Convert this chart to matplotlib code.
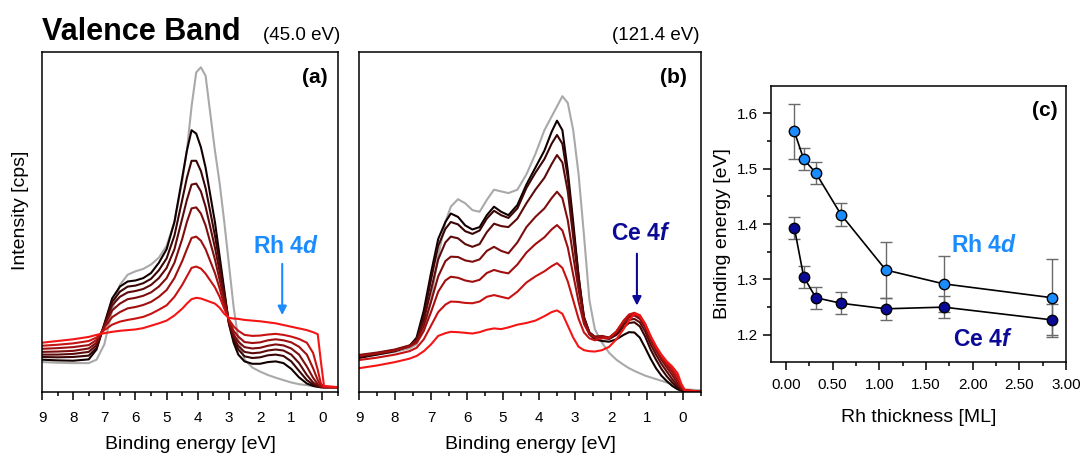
import matplotlib
matplotlib.use("Agg")
import matplotlib.pyplot as plt
from matplotlib.ticker import MultipleLocator, FormatStrFormatter

plt.rcParams['font.family'] = ['Liberation Sans', 'DejaVu Sans']
plt.rcParams['mathtext.fontset'] = 'custom'
plt.rcParams['mathtext.it'] = 'Liberation Sans:italic:bold'
plt.rcParams['mathtext.rm'] = 'Liberation Sans:bold'

# ---------------- Panel (a): hv = 45.0 eV ----------------
energy_a = [9.0, 8.5, 8.0, 7.5, 7.25, 7.0, 6.75, 6.5, 6.25, 6.0, 5.75, 5.5, 5.25, 5.0,
            4.75, 4.5, 4.35, 4.2, 4.05, 3.9, 3.75, 3.6, 3.45, 3.3, 3.15, 3.0, 2.85, 2.7,
            2.5, 2.25, 2.0, 1.75, 1.5, 1.25, 1.0, 0.75, 0.5, 0.3, 0.15, 0.05, -0.05, -0.5]
gray_a = [8.8, 8.6, 8.5, 8.5, 9.5, 14, 24, 31.5, 34.5, 35.5, 36.2, 37.5, 39.5, 43,
          50, 62, 71, 84, 94, 95.5, 93, 82, 71, 61.5, 50, 37.5, 25, 15.5,
          9.5, 7.2, 6, 5, 4.2, 3.5, 2.8, 2.3, 2, 1.7, 1.6, 1.5, 1.5, 1.5]
a1 = [9.5, 9.3, 9.2, 9.6, 12.5, 20, 27.5, 31, 32.5, 32.8, 33.5, 35, 38, 42,
      50, 63, 71, 77, 76, 72, 66, 58, 50, 40, 30, 20, 14.5, 11,
      9, 8.3, 8.3, 8.8, 9, 8.5, 6.8, 4.3, 2.5, 1.8, 1.5, 1.4, 1.4, 1.4]
a2 = [10.3, 10.2, 10.3, 10.7, 13, 19.8, 26.5, 29.5, 31, 31.3, 32, 33.3, 35.8, 39.3,
      46, 56.5, 63, 68, 68, 65, 60, 53, 46, 38, 29, 20.2, 15.5, 12.5,
      10.5, 10, 10.2, 10.8, 11, 10.6, 9, 6.2, 3.5, 2.2, 1.6, 1.4, 1.4, 1.4]
a3 = [11, 11, 11.2, 11.8, 13.8, 19.6, 25.5, 28, 29.3, 29.7, 30.3, 31.5, 33.5, 36.5,
      42, 51, 56.5, 61, 61.3, 59, 54.5, 48.5, 42.5, 35.5, 28, 20.5, 16.3, 13.5,
      11.8, 11.4, 11.6, 12.2, 12.5, 12.2, 11, 8.5, 5, 2.8, 1.8, 1.5, 1.4, 1.4]
a4 = [11.8, 11.9, 12.1, 12.8, 14.5, 19.3, 24, 26, 27.3, 27.7, 28.3, 29.3, 31, 33.5,
      38, 45, 50, 54, 54.3, 52.5, 49, 44, 39, 33, 27, 20.8, 17, 14.8,
      13.2, 12.8, 13, 13.6, 14, 13.7, 12.8, 11, 7.5, 4.2, 2.3, 1.6, 1.4, 1.4]
a5 = [12.7, 12.9, 13.2, 13.8, 15.3, 18.9, 22, 23.5, 24.6, 25, 25.6, 26.5, 28, 30,
      33.5, 38.5, 42, 45.3, 45.7, 44.5, 42, 38.5, 35, 30.5, 25.5, 21, 18, 16.3,
      14.7, 14.4, 14.6, 15.2, 15.5, 15.2, 14.6, 13.3, 11, 7, 3.5, 1.8, 1.4, 1.4]
a6 = [13.6, 13.9, 14.3, 15, 16, 18.2, 19.8, 20.7, 21.2, 21.6, 22.1, 23, 24.2, 25.5,
      28, 31.5, 34, 36.5, 36.9, 36.3, 34.8, 32.8, 30.8, 28, 24.5, 21.3, 19.3, 18,
      16.8, 16.5, 16.6, 16.9, 17.1, 16.8, 16.3, 15.6, 14.5, 11.5, 6.5, 2.5, 1.5, 1.4]
a7 = [14.5, 15, 15.5, 16.2, 16.8, 17.3, 17.7, 18, 18.2, 18.4, 18.8, 19.5, 20.2, 21,
      22.5, 24.5, 26, 27.3, 27.7, 27.5, 27, 26.5, 26, 24.8, 23, 21.8, 21.6, 21.5,
      21.2, 21, 20.8, 20.5, 20.2, 19.7, 19.2, 18.7, 18.2, 17.6, 17, 9, 1.8, 1.4]
series_a = [a1, a2, a3, a4, a5, a6, a7]

# ---------------- Panel (b): hv = 121.4 eV ----------------
energy_b = [9.0, 8.5, 8.0, 7.6, 7.4, 7.2, 7.0, 6.8, 6.6, 6.45, 6.25, 6.05, 5.85, 5.65,
            5.45, 5.25, 5.05, 4.85, 4.6, 4.35, 4.1, 3.85, 3.65, 3.5, 3.35, 3.2, 3.05,
            2.9, 2.75, 2.6, 2.45, 2.25, 2.05, 1.85, 1.65, 1.5, 1.35, 1.2, 1.05, 0.9,
            0.75, 0.6, 0.45, 0.3, 0.15, 0.05, -0.05, -0.5]
gray_b = [10.4, 11, 11.8, 12.8, 14, 18, 27, 40, 50, 54.5, 56.7, 55.5, 53.5, 53,
          56.5, 59.5, 59, 58.5, 59.5, 64, 70, 77, 81, 84, 87, 85, 77,
          64, 46, 27, 18.5, 14.5, 11.5, 9.5, 8, 7, 6.2, 5.5, 4.8, 4.3,
          3.8, 3.3, 2.8, 2.3, 1.7, 1.2, 0.8, 0.5]
b1 = [10, 11, 12, 13.5, 16, 24, 35, 45, 50, 52.5, 51.5, 49, 47.8, 48.5,
      52, 54.5, 53, 52, 55, 61, 66, 71, 76.5, 79.8, 77, 65, 50,
      34, 21, 17, 15.5, 15, 14.8, 15.5, 16.8, 17.6, 17.5, 16, 13, 9.8,
      7, 4.8, 3.2, 1.8, 0.8, 0.4, 0.2, 0.1]
b2 = [10.2, 11.2, 12.2, 13.5, 15.5, 22.5, 33, 43, 48, 50, 49.3, 47.3, 46.5, 47.5,
      51, 53.3, 52, 51.2, 54, 60, 64.5, 68.5, 73, 75.6, 73, 63, 48,
      34, 22, 17.5, 16, 16, 15.6, 16.8, 19, 20.3, 20.5, 19.3, 16.3, 12.5,
      9.5, 6.8, 4.6, 2.8, 1.3, 0.6, 0.3, 0.1]
b3 = [10.6, 11.4, 12.4, 13.6, 15.3, 21, 30, 39, 44, 45.7, 45.2, 43.5, 42.7, 43.5,
      47, 49.5, 48.8, 48.5, 51, 55.5, 59.5, 63, 67, 69.7, 67.5, 59, 45.5,
      32.5, 22, 17.5, 16.2, 16.3, 15.8, 17.2, 19.8, 21.2, 21.5, 20.5, 17.8, 14,
      11, 8.3, 6, 3.8, 1.8, 0.8, 0.3, 0.1]
b4 = [10.9, 11.6, 12.5, 13.7, 15, 19.5, 26.5, 34, 38.5, 39.8, 39.7, 38.7, 38.3, 39,
      41.5, 42.7, 41.5, 40.8, 44, 48.5, 51.5, 54, 57, 58.9, 57, 50.5, 40,
      30, 21.5, 17.5, 16.3, 16.5, 16, 17.6, 20.5, 22, 22.5, 21.5, 19, 15.3,
      12.2, 9.5, 7.2, 5, 2.6, 1.1, 0.4, 0.1]
b5 = [10.6, 11.3, 12.2, 13.3, 14.5, 18, 23.5, 29.5, 32.8, 33.9, 33.6, 32.8, 32.4, 33,
      35, 35.9, 35.3, 34.9, 37.5, 41, 43.5, 45.5, 47.8, 49.1, 47.5, 42.5, 34.5,
      26.5, 20, 17, 16, 16.3, 16, 17.8, 20.8, 22.5, 23, 22.2, 19.6, 16,
      12.8, 10.2, 8, 6, 3.5, 1.5, 0.5, 0.1]
b6 = [9.4, 10.1, 11, 12, 13, 15.5, 19.5, 23.5, 25.7, 26.6, 26.5, 26.2, 26.1, 26.6,
      28, 28.5, 28, 27.5, 29.5, 32.2, 34, 35.5, 37, 37.9, 36.5, 32.5, 27,
      21.5, 17.5, 15.8, 15.2, 15.8, 15.8, 17.8, 21, 22.8, 23.3, 22.6, 20, 16.3,
      13.2, 10.6, 8.5, 6.8, 4.5, 2, 0.6, 0.1]
b7 = [7, 7.8, 8.8, 9.8, 10.6, 12, 14, 16.5, 17.3, 17.7, 17.6, 17.4, 17.2, 17.6,
      18.3, 18.7, 18.5, 19, 19.8, 20.3, 21, 22.3, 23.5, 24, 23, 19.5, 16,
      13.3, 12.3, 12, 11.9, 12.3, 13.3, 15.5, 18.5, 21, 23, 22.5, 20, 16.5,
      13.5, 11, 9, 7.5, 5.5, 2.5, 0.5, 0.1]
series_b = [b1, b2, b3, b4, b5, b6, b7]

# ---------------- Panel (c) ----------------
thickness = [0.09, 0.19, 0.32, 0.59, 1.07, 1.69, 2.85]
rh4d_be = [1.567, 1.517, 1.492, 1.417, 1.317, 1.292, 1.267]
rh4d_err = [0.05, 0.02, 0.02, 0.02, 0.05, 0.05, 0.07]
ce4f_be = [1.393, 1.305, 1.267, 1.257, 1.247, 1.250, 1.227]
ce4f_err = [0.02, 0.02, 0.02, 0.02, 0.02, 0.02, 0.028]

curve_colors = ['#120000', '#3a0505', '#5c0a0a', '#7e0d0d', '#a00f0f', '#c81212', '#f51515']
gray_color = '#a9a9a9'
rh_color = '#1a8cff'
ce_color = '#0a0a96'

W, H = 1082, 455
fig = plt.figure(figsize=(W / 100, H / 100), dpi=100)

def frac_rect(l, t, r, b):
    return [l / W, 1 - b / H, (r - l) / W, (b - t) / H]

ax_a = fig.add_axes(frac_rect(42, 52, 338, 392))
ax_b = fig.add_axes(frac_rect(359, 52, 701, 392))
ax_c = fig.add_axes(frac_rect(771, 86, 1066, 362))

tick_fs = 11
label_fs = 14

for ax, en, gray, ser in ((ax_a, energy_a, gray_a, series_a), (ax_b, energy_b, gray_b, series_b)):
    ax.plot(en, gray, color=gray_color, lw=1.5)
    for s, c in zip(ser, curve_colors):
        ax.plot(en, s, color=c, lw=1.5)
    ax.set_xlim(9, -0.5)
    ax.set_ylim(0, 100)
    ax.set_yticks([])
    ax.xaxis.set_major_locator(MultipleLocator(1))
    ax.xaxis.set_minor_locator(MultipleLocator(0.5))
    ax.tick_params(axis='x', which='major', direction='out', length=5.5, width=1.1,
                   labelsize=tick_fs, pad=8)
    ax.tick_params(axis='x', which='minor', direction='out', length=3, width=1.1)
    ax.set_xlabel('Binding energy [eV]', fontsize=label_fs, labelpad=8)
    for sp in ax.spines.values():
        sp.set_linewidth(1.1)

ax_a.set_ylabel('Intensity [cps]', fontsize=label_fs)
ax_a.yaxis.set_label_coords(-0.044, 0.535)

ax_a.text(0.966, 0.926, '(a)', transform=ax_a.transAxes, ha='right', va='center',
          fontsize=15, fontweight='bold')
ax_b.text(0.959, 0.926, '(b)', transform=ax_b.transAxes, ha='right', va='center',
          fontsize=15, fontweight='bold')

ax_a.annotate('', xy=(1.29, 21.8), xytext=(1.29, 38.5),
              arrowprops=dict(arrowstyle='-|>', color=rh_color, lw=1.5, mutation_scale=13))
ax_a.text(1.16, 42.7, 'Rh 4$d$', color=rh_color, ha='center', va='center',
          fontsize=16.5, fontweight='bold')
ax_b.annotate('', xy=(1.28, 24.6), xytext=(1.28, 41.5),
              arrowprops=dict(arrowstyle='-|>', color=ce_color, lw=1.5, mutation_scale=13))
ax_b.text(1.17, 46.7, 'Ce 4$f$', color=ce_color, ha='center', va='center',
          fontsize=16.5, fontweight='bold')

# Panel (c)
ax_c.errorbar(thickness, rh4d_be, yerr=rh4d_err, fmt='none', ecolor='#6a6a6a',
              elinewidth=1, capsize=4, capthick=1, zorder=1)
ax_c.errorbar(thickness, ce4f_be, yerr=ce4f_err, fmt='none', ecolor='#6a6a6a',
              elinewidth=1, capsize=4, capthick=1, zorder=1)
ax_c.plot(thickness, rh4d_be, '-o', color='black', lw=1.2, markersize=7.5,
          markerfacecolor=rh_color, markeredgecolor='black', markeredgewidth=1, zorder=3)
ax_c.plot(thickness, ce4f_be, '-o', color='black', lw=1.2, markersize=7.5,
          markerfacecolor=ce_color, markeredgecolor='black', markeredgewidth=1, zorder=3)
ax_c.set_xlim(-0.16, 3.0)
ax_c.set_ylim(1.151, 1.649)
ax_c.xaxis.set_major_locator(MultipleLocator(0.5))
ax_c.xaxis.set_minor_locator(MultipleLocator(0.25))
ax_c.yaxis.set_major_locator(MultipleLocator(0.1))
ax_c.yaxis.set_minor_locator(MultipleLocator(0.05))
ax_c.xaxis.set_major_formatter(FormatStrFormatter('%.2f'))
ax_c.yaxis.set_major_formatter(FormatStrFormatter('%.1f'))
ax_c.tick_params(which='major', direction='out', length=5.5, width=1.1, labelsize=tick_fs)
ax_c.tick_params(axis='x', which='major', pad=6)
ax_c.tick_params(which='minor', direction='out', length=3, width=1.1)
for sp in ax_c.spines.values():
    sp.set_linewidth(1.1)
ax_c.set_xlabel('Rh thickness [ML]', fontsize=label_fs, labelpad=12)
ax_c.set_ylabel('Binding energy [eV]', fontsize=label_fs)
ax_c.yaxis.set_label_coords(-0.136, 0.464)
ax_c.text(0.973, 0.913, '(c)', transform=ax_c.transAxes, ha='right', va='center',
          fontsize=15, fontweight='bold')
ax_c.text(2.12, 1.362, 'Rh 4$d$', color=rh_color, ha='center', va='center',
          fontsize=16.5, fontweight='bold')
ax_c.text(2.11, 1.191, 'Ce 4$f$', color=ce_color, ha='center', va='center',
          fontsize=16.5, fontweight='bold')

fig.text(42 / W, 1 - 39.5 / H, 'Valence Band', fontsize=22, fontweight='bold',
         ha='left', va='baseline')
fig.text(340 / W, 1 - 39.5 / H, '(45.0 eV)', fontsize=13.5, ha='right', va='baseline')
fig.text(700 / W, 1 - 39.5 / H, '(121.4 eV)', fontsize=13.5, ha='right', va='baseline')

fig.savefig('out.png', dpi=100)
